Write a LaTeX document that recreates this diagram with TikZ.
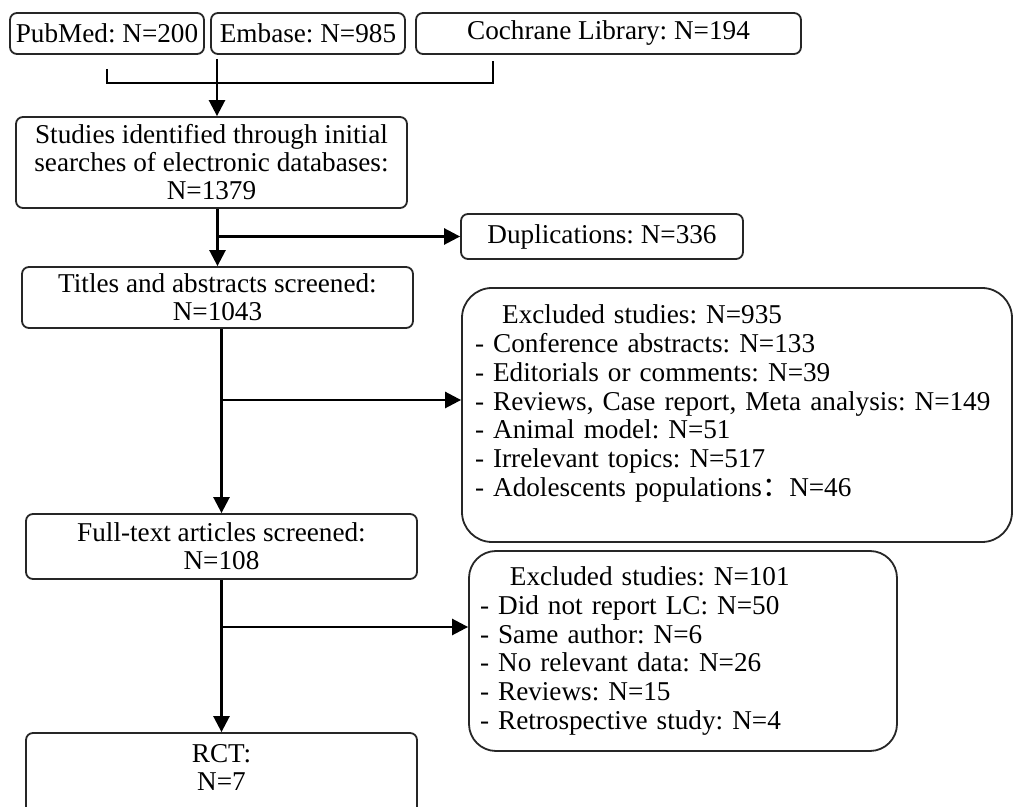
\documentclass[tikz,border=0pt]{standalone}
\usepackage{fontspec}
\setmainfont{Liberation Serif}
\newfontfamily\cjk{Noto Sans CJK SC}
\usetikzlibrary{arrows.meta,calc}
\frenchspacing

\begin{document}
\begin{tikzpicture}[x=0.5pt,y=-0.5pt,
  box/.style={draw=black!85,line width=0.9pt,rounded corners=3.5pt,inner xsep=2pt,inner ysep=1pt,
    align=center,font=\fontsize{13.6}{14}\selectfont},
  bigbox/.style={box,rounded corners=15pt,align=left,font=\fontsize{13.6}{14.4}\selectfont},
  link/.style={line width=1pt},
  arrow/.style={line width=1.3pt,-{Triangle[length=8pt,width=8pt]}}]
  \useasboundingbox (0,0) rectangle (1014,807);
  \clip (0,0) rectangle (1014,807);
  \node[box,minimum width=97pt,minimum height=20.5pt] (pub) at (107,33.5) {PubMed: N=200};
  \node[box,minimum width=97pt,minimum height=20.5pt] (emb) at (308,33.5) {Embase: N=985};
  \node[box,minimum width=192.5pt,minimum height=20.5pt] (coch) at (608.5,33.5) {Cochrane Library: N=194};
  \node[box,minimum width=195.5pt,minimum height=45.5pt] (stud) at (211.5,162.5) {Studies identified through initial\\searches of electronic databases:\\N=1379};
  \node[box,minimum width=141pt,minimum height=22.5pt] (dup) at (602,236.5) {Duplications: N=336};
  \node[box,minimum width=195.5pt,minimum height=30.5pt] (titl) at (217.5,297.5) {Titles and abstracts screened:\\N=1043};
  \node[bigbox,text width=262pt,inner xsep=6.5pt,minimum height=127pt] (exc1) at (737,415) {\hspace*{1em}Excluded studies: N=935\\
    - Conference abstracts: N=133\\
    - Editorials or comments: N=39\\
    - Reviews, Case report, Meta analysis: N=149\\
    - Animal model: N=51\\
    - Irrelevant topics: N=517\\
    - Adolescents populations{\cjk ：}N=46\\
    \mbox{}};
  \node[box,minimum width=195.5pt,minimum height=32.5pt] (full) at (221.5,546.5) {Full-text articles screened:\\N=108};
  \node[bigbox,rounded corners=13.5pt,text width=203pt,inner xsep=5.5pt,minimum height=100pt] (exc2) at (683,651) {\hspace*{1.1em}Excluded studies: N=101\\
    - Did not report LC: N=50\\
    - Same author: N=6\\
    - No relevant data: N=26\\
    - Reviews: N=15\\
    - Retrospective study: N=4};
  \node[box,minimum width=195.5pt,minimum height=48pt] (rct) at (221.5,781) {RCT:\\N=7\\\mbox{}};
  \draw[link] ($(pub.south)+(0,14)$) -- ($(pub.south)+(0,28)$) -| ($(coch.south)+(-115.5,6)$);
  \draw[arrow] ($(emb.south)+(-91,4)$) -- ($(stud.north)+(5.5,0)$);
  \draw[arrow] (titl.north |- stud.south) -- (titl.north);
  \draw[arrow] (titl.north |- dup.west) -- (dup.west);
  \draw[arrow] (full.north |- titl.south) -- (full.north);
  \draw[arrow] (full.north |- 0,400) -- (exc1.west |- 0,400);
  \draw[arrow] (full.south) -- (rct.north);
  \draw[arrow] (full.south |- 0,627) -- (exc2.west |- 0,627);
\end{tikzpicture}
\end{document}
